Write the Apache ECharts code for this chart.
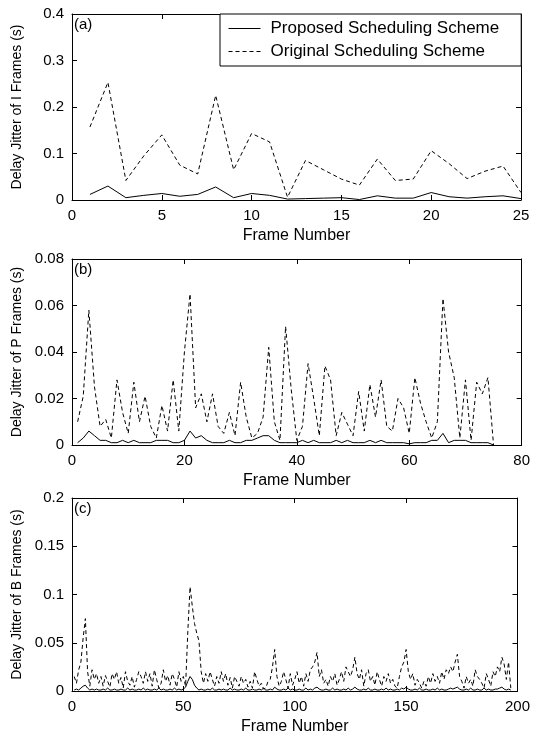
<!DOCTYPE html>
<html><head><meta charset="utf-8">
<script src="https://cdn.jsdelivr.net/npm/echarts@6/dist/echarts.min.js"></script>
<style>html,body{margin:0;padding:0;background:#fff}#c{width:533px;height:740px}</style>
</head><body><div id="c"></div>
<script>
// ---- Data (values in seconds) ----
const nameProposed = 'Proposed Scheduling Scheme';
const nameOriginal = 'Original Scheduling Scheme';

// (a) I frames, frames 1..25
const iProposed = [0.012,0.030,0.005,0.010,0.014,0.008,0.012,0.028,0.005,0.014,0.010,0.002,0.003,0.004,0.005,0.001,0.009,0.004,0.004,0.016,0.007,0.004,0.007,0.009,0.003];
const iOriginal = [0.157,0.253,0.042,0.095,0.140,0.075,0.056,0.225,0.065,0.143,0.125,0.006,0.085,0.065,0.045,0.032,0.088,0.042,0.045,0.106,0.078,0.046,0.062,0.073,0.016];

// (b) P frames, frames 1..75 (x 0.001 s)
const pProposedMs = [1,3,6,4,2,2,1,1,2,1, 2,1,1,1,2,2,2,1,1,2, 6,3,4,2,1,1,1,2,1,1, 2,2,3,4,4,2,1,1,1,1, 2,1,2,1,1,1,2,1,2,1, 1,1,2,1,2,1,1,1,1,0.5, 1,1,1,2,2,5,1,2,2,2, 1,1,1,1,0];
const pOriginalMs = [10,21,58,25,8,11,3,28,14,5, 27,10,21,8,3,17,6,28,6,40, 65,16,22,10,22,8,5,14,4,27, 12,3,5,12,42,10,2,51,24,2, 8,35,20,4,34,28,4,14,9,4, 23,6,26,12,28,8,6,20,16,5, 29,18,10,3,10,63,40,29,3,28, 2,27,22,29,0];

// (c) B frames, frames 1..197 (x 0.001 s)
const bProposedMs = [1,2,1,3,5,6,3,1,2,1, 2,1,1,2,1,3,1,1,2,1, 1,2,1,1,3,1,2,1,1,2, 1,3,1,2,1,1,2,1,3,1, 2,1,1,2,1,3,1,2,1,2, 4,10,15,12,6,3,1,2,1,1, 2,1,3,1,1,2,1,2,1,1, 3,1,2,1,1,2,1,3,1,1, 2,1,1,2,1,3,1,1,2,1, 4,2,1,1,2,1,3,1,2,1, 1,2,1,1,3,1,2,1,3,4, 2,1,1,2,1,1,3,1,2,1, 1,2,1,3,1,2,4,2,1,1, 2,1,3,1,1,2,1,1,2,1, 3,1,2,1,1,2,1,3,2,4, 2,1,1,2,1,3,1,1,2,1, 1,2,1,3,1,2,1,1,2,3, 2,3,4,2,1,1,2,1,3,1, 1,2,1,1,3,1,2,1,1,2, 2,3,4,2,1,2,1];
const bOriginalMs = [15,8,22,30,55,75,20,5,22,12, 18,8,15,5,16,10,4,18,12,20, 8,14,3,20,10,6,15,4,12,20, 15,8,20,10,18,5,22,12,3,8, 22,10,16,6,18,12,4,20,10,15, 5,62,108,88,70,60,52,20,8,18, 10,20,12,5,15,8,20,10,18,6, 14,3,15,10,5,15,8,12,4,10, 3,20,12,5,8,2,3,10,12,25, 43,15,5,10,20,12,3,18,6,12, 20,8,15,5,18,10,22,25,30,40, 15,22,8,12,5,15,10,18,6,12, 20,10,25,20,15,22,35,18,12,22, 5,18,22,10,15,6,20,12,5,15, 10,18,8,12,5,3,15,25,30,43, 20,12,18,6,12,8,3,10,5,15, 8,18,10,15,8,20,12,22,18,25, 20,30,38,15,10,3,15,8,12,5, 22,15,12,8,3,18,12,5,20,15, 25,20,35,28,12,30,3];

// axis ranges / ticks
const xRanges = [[0,25,5],[0,80,20],[0,200,50]];
const yRanges = [[0,0.4,0.1],[0,0.08,0.02],[0,0.2,0.05]];
const yNames = ['Delay Jitter of I Frames (s)','Delay Jitter of P Frames (s)','Delay Jitter of B Frames (s)'];
const panelLabels = ['(a)','(b)','(c)'];

const FONT = 'Liberation Sans, Arial, sans-serif';
const toPairs = (arr, scale) => arr.map((v,i)=>[i+1, v*scale]);

const grids = [
  {left:72, top:14, width:449, height:186},
  {left:72, top:259, width:450, height:186},
  {left:72, top:498, width:450, height:193}
];

const xAxes = [], yAxes = [], series = [];
const seriesData = [
  [toPairs(iProposed,1), toPairs(iOriginal,1)],
  [toPairs(pProposedMs,0.001), toPairs(pOriginalMs,0.001)],
  [toPairs(bProposedMs,0.001), toPairs(bOriginalMs,0.001)]
];
const black = '#000';
for (let g=0; g<3; g++) {
  const [xmin,xmax,xint] = xRanges[g];
  const [ymin,ymax,yint] = yRanges[g];
  const base = (pos, show) => ({
    gridIndex:g, type:'value', position:pos,
    axisLine:{show:true, onZero:false, lineStyle:{color:black, width:1}},
    axisTick:{show:true, inside:true, length:5, lineStyle:{color:black}},
    axisLabel:{show:show, color:black, fontSize:15, fontFamily:FONT, margin:8},
    splitLine:{show:false}
  });
  xAxes.push(Object.assign(base('bottom',true), {min:xmin,max:xmax,interval:xint,
    name:'Frame Number', nameLocation:'middle', nameGap:28,
    nameTextStyle:{color:black, fontSize:16, fontFamily:FONT}}));
  xAxes.push(Object.assign(base('top',false), {min:xmin,max:xmax,interval:xint}));
  yAxes.push(Object.assign(base('left',true), {min:ymin,max:ymax,interval:yint,
    name:yNames[g], nameLocation:'middle', nameGap:48,
    nameTextStyle:{color:black, fontSize:14, fontFamily:FONT}}));
  yAxes.push(Object.assign(base('right',false), {min:ymin,max:ymax,interval:yint}));
  series.push({type:'line', name:nameProposed, xAxisIndex:2*g, yAxisIndex:2*g,
    data:seriesData[g][0], symbol:'none', lineStyle:{color:black, width:1}, itemStyle:{color:black}});
  series.push({type:'line', name:nameOriginal, xAxisIndex:2*g, yAxisIndex:2*g,
    data:seriesData[g][1], symbol:'none', lineStyle:{color:black, width:1, type:[4,3]}, itemStyle:{color:black}});
}

const graphics = panelLabels.map((t,g)=>({
  type:'text', left:grids[g].left+2, top:grids[g].top+3,
  style:{text:t, fill:black, fontSize:15, fontFamily:FONT}
}));

const chart = echarts.init(document.getElementById('c'), null, {renderer:'canvas'});
chart.setOption({
  animation:false,
  backgroundColor:'#fff',
  grid:grids,
  xAxis:xAxes,
  yAxis:yAxes,
  legend:{
    data:[nameProposed, nameOriginal], orient:'vertical', left:220, top:14,
    backgroundColor:'#fff', borderColor:black, borderWidth:1, borderRadius:0,
    padding:[6,22,6,8], itemGap:6, itemWidth:32, itemHeight:14,
    itemStyle:{color:'rgba(0,0,0,0)', borderWidth:0, opacity:0},
    lineStyle:{width:1},
    textStyle:{color:black, fontSize:17, fontFamily:FONT, padding:[0,0,0,5]},
    selectedMode:false
  },
  graphic:graphics,
  series:series
});
</script></body></html>
